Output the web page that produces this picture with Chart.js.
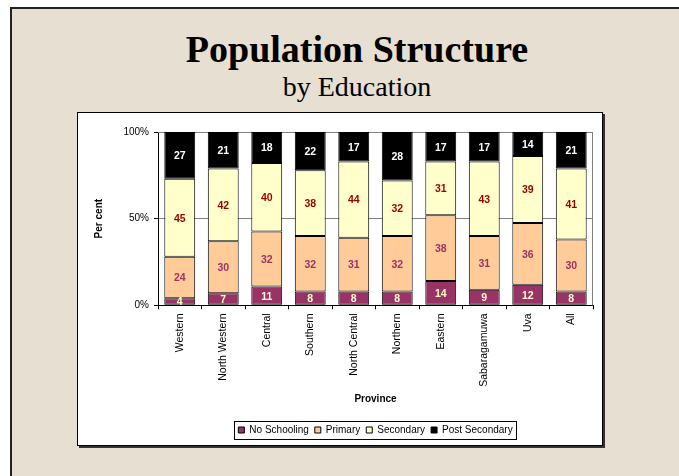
<!DOCTYPE html>
<html>
<head>
<meta charset="utf-8">
<script src="https://cdn.jsdelivr.net/npm/chart.js@4"></script>
<style>
  body { margin: 0; width: 679px; height: 476px; background: #fff; overflow: hidden; position: relative; }
  .slide { position: absolute; left: 10px; top: 7px; width: 700px; height: 480px;
           background: #e6dfd2; border-left: 2px solid #222; border-top: 2px solid #222; }
  .title { position: absolute; left: 57px; width: 600px; text-align: center;
           font-family: "Times New Roman", "Liberation Serif", serif; color: #000; }
  .main { top: 30px; font-size: 38px; line-height: 38px; font-weight: bold; }
  .sub { top: 73px; font-size: 28px; line-height: 28px; }
  .box { position: absolute; left: 77px; top: 112px; width: 524px; height: 332px;
         background: #fff; border: 1px solid #000; box-shadow: 2px 2px 0 #333; }
</style>
</head>
<body>
<div class="slide"></div>
<div class="title main">Population Structure</div>
<div class="title sub">by Education</div>
<div class="box"><canvas id="eduChart" width="524" height="332"></canvas></div>
<script>
const provinces = ["Western", "North Western", "Central", "Southern", "North Central",
                   "Northern", "Eastern", "Sabaragamuwa", "Uva", "All"];
const noSchooling   = [4, 7, 11, 8, 8, 8, 14, 9, 12, 8];
const primary       = [24, 30, 32, 32, 31, 32, 38, 31, 36, 30];
const secondary     = [45, 42, 40, 38, 44, 32, 31, 43, 39, 41];
const postSecondary = [27, 21, 18, 22, 17, 28, 17, 17, 14, 21];
const yTicks = [0, 50, 100];

const FONT = "Arial, 'Liberation Sans', sans-serif";

// 100% stacked: each province scaled to its own total
const totals = provinces.map((_, i) =>
  noSchooling[i] + primary[i] + secondary[i] + postSecondary[i]);
const share = arr => arr.map((v, i) => v / totals[i] * 100);

const series = [
  { label: "No Schooling",   raw: noSchooling,   fill: "#993366", text: "#FFFFCC" },
  { label: "Primary",        raw: primary,       fill: "#FFCC99", text: "#993366" },
  { label: "Secondary",      raw: secondary,     fill: "#FFFFCC", text: "#990000" },
  { label: "Post Secondary", raw: postSecondary, fill: "#000000", text: "#FFFFFF" },
];

// value labels in the middle of each segment
const segmentLabels = {
  id: "segmentLabels",
  afterDatasetsDraw(chart) {
    const ctx = chart.ctx;
    ctx.save();
    ctx.font = "bold 10.5px " + FONT;
    ctx.textAlign = "center";
    ctx.textBaseline = "middle";
    chart.data.datasets.forEach((ds, di) => {
      chart.getDatasetMeta(di).data.forEach((bar, i) => {
        ctx.fillStyle = series[di].text;
        ctx.fillText(series[di].raw[i], bar.x, (bar.y + bar.base) / 2 + 1);
      });
    });
    ctx.restore();
  }
};

// grey top/right edge of the plot area
const plotFrame = {
  id: "plotFrame",
  beforeDatasetsDraw(chart) {
    const { ctx, chartArea: a } = chart;
    ctx.save();
    ctx.strokeStyle = "#808080";
    ctx.lineWidth = 1;
    ctx.beginPath();
    ctx.moveTo(a.left, a.top + 0.5);
    ctx.lineTo(a.right - 0.5, a.top + 0.5);
    ctx.lineTo(a.right - 0.5, a.bottom);
    ctx.stroke();
    ctx.restore();
  }
};

// box around the legend items
const legendFrame = {
  id: "legendFrame",
  afterDraw(chart) {
    const boxes = chart.legend.legendHitBoxes;
    if (!boxes || !boxes.length) return;
    const first = boxes[0], last = boxes[boxes.length - 1];
    const x0 = first.left - 4, x1 = last.left + last.width + 4;
    const y0 = first.top - 4, y1 = first.top + first.height + 4;
    const ctx = chart.ctx;
    ctx.save();
    ctx.strokeStyle = "#000";
    ctx.lineWidth = 1;
    ctx.strokeRect(Math.round(x0) + 0.5, Math.round(y0) + 0.5,
                   Math.round(x1 - x0), Math.round(y1 - y0));
    ctx.restore();
  }
};

new Chart(document.getElementById("eduChart"), {
  type: "bar",
  data: {
    labels: provinces,
    datasets: series.map(s => ({
      label: s.label,
      data: share(s.raw),
      backgroundColor: s.fill,
      borderColor: "#000",
      borderWidth: 1,
      borderSkipped: false,
      inflateAmount: 0,
      barPercentage: 0.71,
      categoryPercentage: 1,
    })),
  },
  options: {
    responsive: false,
    animation: false,
    devicePixelRatio: 1,
    layout: { padding: { top: 19, right: 9, bottom: 0, left: 0 } },
    plugins: {
      legend: {
        position: "bottom",
        fullSize: false,
        labels: {
          boxWidth: 6,
          boxHeight: 6,
          padding: 6,
          color: "#000",
          font: { family: FONT, size: 10 },
        },
      },
      tooltip: { enabled: false },
    },
    scales: {
      x: {
        stacked: true,
        afterFit: scale => { scale.height = 113.7; },
        grid: { drawOnChartArea: false, tickLength: 4, tickColor: "#000" },
        border: { color: "#000", width: 1 },
        ticks: {
          autoSkip: false,
          minRotation: 90,
          maxRotation: 90,
          padding: 4,
          color: "#000",
          font: { family: FONT, size: 10.5 },
        },
        title: {
          display: true,
          text: "Province",
          color: "#000",
          font: { family: FONT, size: 10, weight: "bold" },
          padding: { top: 0, bottom: 13.7 },
        },
      },
      y: {
        stacked: true,
        min: 0,
        max: 100,
        afterFit: scale => { scale.width = 80; },
        afterBuildTicks: scale => { scale.ticks = yTicks.map(v => ({ value: v })); },
        grid: { color: "#808080", tickLength: 4, tickColor: "#000" },
        border: { color: "#000", width: 1 },
        ticks: {
          padding: 5,
          color: "#000",
          font: { family: FONT, size: 10 },
          callback: v => v + "%",
        },
        title: {
          display: true,
          text: "Per cent",
          color: "#000",
          font: { family: FONT, size: 10, weight: "bold" },
          padding: { top: 15, bottom: 0 },
        },
      },
    },
  },
  plugins: [plotFrame, segmentLabels, legendFrame],
});
</script>
</body>
</html>
